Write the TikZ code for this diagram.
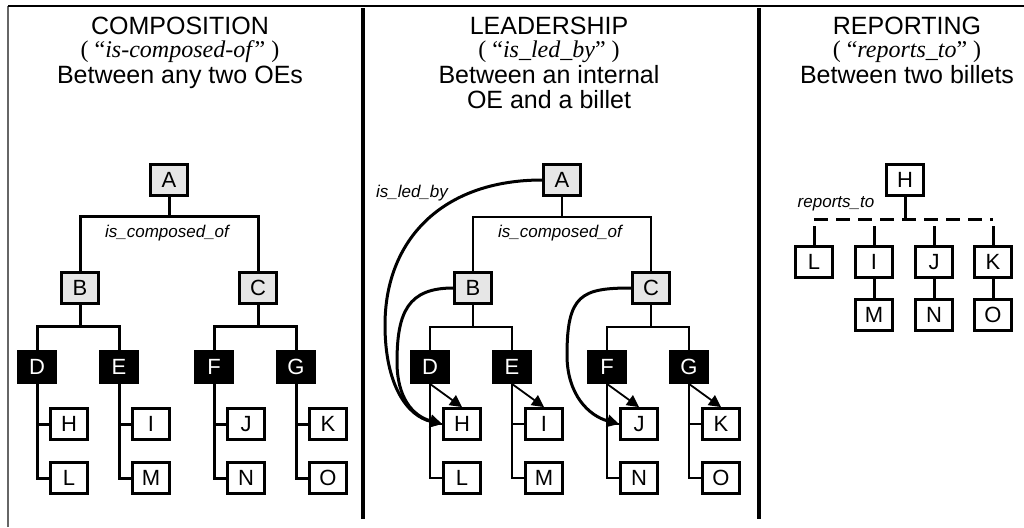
\documentclass[tikz,border=0pt]{standalone}
\usepackage{fontspec}
\setmainfont{Liberation Sans}
\newfontfamily\seriffont{Liberation Serif}
\usetikzlibrary{arrows.meta}
\definecolor{boxgray}{HTML}{E6E6E6}
\definecolor{framegray}{HTML}{666666}
\begin{document}
\begin{tikzpicture}[x=1pt,y=-1pt,
  title/.style={font=\fontsize{25}{25}\selectfont, anchor=base, inner sep=0pt},
  sub/.style={font=\seriffont\fontsize{24}{24}\selectfont, anchor=base, inner sep=0pt},
  lab/.style={font=\itshape\fontsize{17}{17}\selectfont, anchor=base, inner sep=0pt},
  box/.style={draw, line width=2.8pt, minimum width=37pt, minimum height=31pt, inner sep=0pt, font=\fontsize{22}{22}\selectfont},
  grey/.style={box, fill=boxgray},
  blk/.style={box, fill=black, text=white},
  wht/.style={box, fill=white},
  heavy/.style={line width=3pt},
  light/.style={line width=1.8pt},
  led/.style={line width=3pt, -{Triangle[length=12pt,width=12pt]}},
  diag/.style={line width=1.8pt, -{Triangle[length=12pt,width=12pt]}},
  bus/.style={line width=3pt, dash pattern=on 14pt off 8pt},
  frame/.style={line width=2pt},
  sep/.style={line width=4pt},
]
\useasboundingbox (0,0) rectangle (1024,527);
% frame and separators
\coordinate (ftl) at (8,6);
\coordinate (ftr) at (1024,6);
\coordinate (fbl) at (8,527);
\draw[frame, framegray] (fbl) -- (ftl);
\draw[frame] (ftl) -- (ftr);
\coordinate (s1t) at (363,8);
\coordinate (s1b) at (363,519);
\coordinate (s2t) at (759,8);
\coordinate (s2b) at (759,519);
\draw[sep] (s1t) -- (s1b);
\draw[sep] (s2t) -- (s2b);

% ---------------- Panel 1 ----------------
\node[title] (t1a) at (180,35) {COMPOSITION};
\node[sub] (t1b) at (180,58) {( “\textit{is-composed-of}” )};
\node[title] (t1c) at (180,83) {Between any two OEs};

\node[grey] (A1) at (169,180) {A};
\node[grey] (B1) at (80,288) {B};
\node[grey] (C1) at (258,288) {C};
\node[blk] (D1) at (37,367) {D};
\node[blk] (E1) at (119,367) {E};
\node[blk] (F1) at (214,367) {F};
\node[blk] (G1) at (296,367) {G};
\node[wht] (H1) at (69,424) {H};
\node[wht] (L1) at (69,478) {L};
\node[wht] (I1) at (151,424) {I};
\node[wht] (M1) at (151,478) {M};
\node[wht] (J1) at (246,424) {J};
\node[wht] (N1) at (246,478) {N};
\node[wht] (K1) at (328,424) {K};
\node[wht] (O1) at (328,478) {O};
\node[lab] (c1lab) at (167,237) {is\_composed\_of};

\draw[heavy] (A1.south) -- ++(0,20) -| (B1.north);
\draw[heavy] (A1.south) -- ++(0,20) -| (C1.north);
\draw[heavy] (B1.south) -- ++(0,22) -| (D1.north);
\draw[heavy] (B1.south) -- ++(0,22) -| (E1.north);
\draw[heavy] (C1.south) -- ++(0,22) -| (F1.north);
\draw[heavy] (C1.south) -- ++(0,22) -| (G1.north);
\draw[heavy] (D1.south) |- (H1.west);
\draw[heavy] (D1.south) |- (L1.west);
\draw[heavy] (E1.south) |- (I1.west);
\draw[heavy] (E1.south) |- (M1.west);
\draw[heavy] (F1.south) |- (J1.west);
\draw[heavy] (F1.south) |- (N1.west);
\draw[heavy] (G1.south) |- (K1.west);
\draw[heavy] (G1.south) |- (O1.west);

% ---------------- Panel 2 ----------------
\node[title] (t2a) at (549,35) {LEADERSHIP};
\node[sub] (t2b) at (549,58) {( “\textit{is\_led\_by}” )};
\node[title] (t2c) at (549,83) {Between an internal};
\node[title] (t2d) at (549,108) {OE and a billet};

\node[grey] (A2) at (562,180) {A};
\node[grey] (B2) at (473,288) {B};
\node[grey] (C2) at (651,288) {C};
\node[blk] (D2) at (430,367) {D};
\node[blk] (E2) at (512,367) {E};
\node[blk] (F2) at (607,367) {F};
\node[blk] (G2) at (689,367) {G};
\node[wht] (H2) at (462,424) {H};
\node[wht] (L2) at (462,478) {L};
\node[wht] (I2) at (544,424) {I};
\node[wht] (M2) at (544,478) {M};
\node[wht] (J2) at (639,424) {J};
\node[wht] (N2) at (639,478) {N};
\node[wht] (K2) at (721,424) {K};
\node[wht] (O2) at (721,478) {O};
\node[lab] (c2lab) at (560,237) {is\_composed\_of};
\node[lab] (ledlab) at (412,197) {is\_led\_by};

\draw[light] (A2.south) -- ++(0,20) -| (B2.north);
\draw[light] (A2.south) -- ++(0,20) -| (C2.north);
\draw[light] (B2.south) -- ++(0,22) -| (D2.north);
\draw[light] (B2.south) -- ++(0,22) -| (E2.north);
\draw[light] (C2.south) -- ++(0,22) -| (F2.north);
\draw[light] (C2.south) -- ++(0,22) -| (G2.north);
\draw[light] (D2.south) |- (H2.west);
\draw[light] (D2.south) |- (L2.west);
\draw[light] (E2.south) |- (I2.west);
\draw[light] (E2.south) |- (M2.west);
\draw[light] (F2.south) |- (J2.west);
\draw[light] (F2.south) |- (N2.west);
\draw[light] (G2.south) |- (K2.west);
\draw[light] (G2.south) |- (O2.west);

\draw[diag] (D2.south) -- (H2.north);
\draw[diag] (E2.south) -- (I2.north);
\draw[diag] (F2.south) -- (J2.north);
\draw[diag] (G2.south) -- (K2.north);

\coordinate (la) at (385,325);
\coordinate (lb) at (397,362);
\coordinate (lc) at (567,355);
\draw[led] (A2.west) .. controls +(-100,0) and +(0,-85) .. (la) .. controls +(0,60) and +(-35,-8) .. (H2.west);
\draw[led] (B2.west) .. controls +(-45,0) and +(0,-50) .. (lb) .. controls +(0,35) and +(-30,-8) .. (H2.west);
\draw[led] (C2.west) .. controls +(-50,0) and +(0,-60) .. (lc) .. controls +(0,40) and +(-30,-8) .. (J2.west);

% ---------------- Panel 3 ----------------
\node[title] (t3a) at (907,35) {REPORTING};
\node[sub] (t3b) at (907,58) {( “\textit{reports\_to}” )};
\node[title] (t3c) at (907,83) {Between two billets};

\node[wht] (H3) at (905,180) {H};
\node[wht] (L3) at (814,262) {L};
\node[wht] (I3) at (874,262) {I};
\node[wht] (J3) at (934,262) {J};
\node[wht] (K3) at (993,262) {K};
\node[wht] (M3) at (874,315) {M};
\node[wht] (N3) at (934,315) {N};
\node[wht] (O3) at (993,315) {O};
\node[lab] (replab) at (836,207) {reports\_to};

\coordinate (busy) at (905,219);
\draw[heavy] (H3.south) -- (busy);
\draw[bus] (L3.north |- busy) -- (K3.north |- busy);
\draw[heavy] (L3.north) -- ++(0,-19);
\draw[heavy] (I3.north) -- ++(0,-19);
\draw[heavy] (J3.north) -- ++(0,-19);
\draw[heavy] (K3.north) -- ++(0,-19);
\draw[heavy] (I3.south) -- (M3.north);
\draw[heavy] (J3.south) -- (N3.north);
\draw[heavy] (K3.south) -- (O3.north);
\end{tikzpicture}
\end{document}
